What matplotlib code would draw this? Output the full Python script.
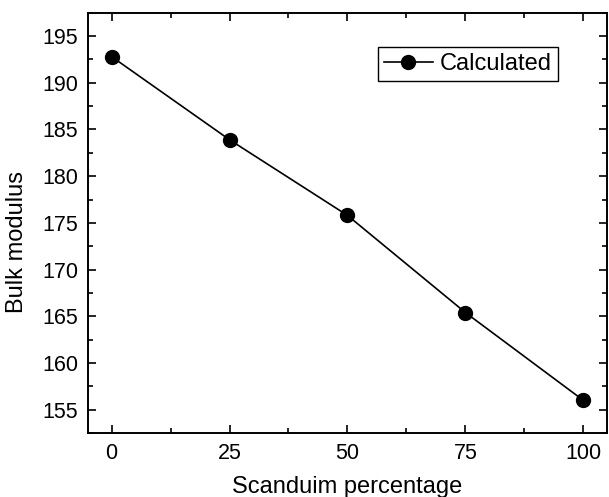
import numpy as np
import matplotlib
matplotlib.use('Agg')
import matplotlib.pyplot as plt
from matplotlib.ticker import MultipleLocator

plt.rcParams['font.family'] = ['Liberation Sans', 'DejaVu Sans']

# data
scandium_pct = [0, 25, 50, 75, 100]
bulk_modulus = [192.8, 183.9, 175.8, 165.4, 156.0]

fig = plt.figure(figsize=(6.09, 4.97), dpi=100)
ax = fig.add_axes([0.1445, 0.1288, 0.852, 0.8456])

ax.plot(scandium_pct, bulk_modulus, color='black', linewidth=1.2,
        marker='o', markersize=10, label='Calculated')

ax.set_xlim(-5, 105)
ax.set_ylim(152.5, 197.5)
ax.xaxis.set_major_locator(MultipleLocator(25))
ax.xaxis.set_minor_locator(MultipleLocator(12.5))
ax.yaxis.set_major_locator(MultipleLocator(5))
ax.yaxis.set_minor_locator(MultipleLocator(2.5))

ax.tick_params(which='both', direction='in', top=True, right=True,
               width=1.2, labelsize=15.5, colors='black')
ax.tick_params(which='major', length=6, pad=7)
ax.tick_params(which='minor', length=3.3)
for s in ax.spines.values():
    s.set_linewidth(1.4)

ax.set_xlabel('Scanduim percentage', fontsize=17, labelpad=9)
ax.set_ylabel('Bulk modulus', fontsize=17)
ax.yaxis.set_label_coords(-0.116, 0.455)

leg = ax.legend(loc='upper right', bbox_to_anchor=(0.906, 0.918),
                borderaxespad=0, fontsize=17, fancybox=False,
                edgecolor='black', framealpha=1, handlelength=2.1,
                handletextpad=0.3, borderpad=0.25)
leg.get_frame().set_linewidth(1.0)

fig.savefig('out.png', dpi=100)
